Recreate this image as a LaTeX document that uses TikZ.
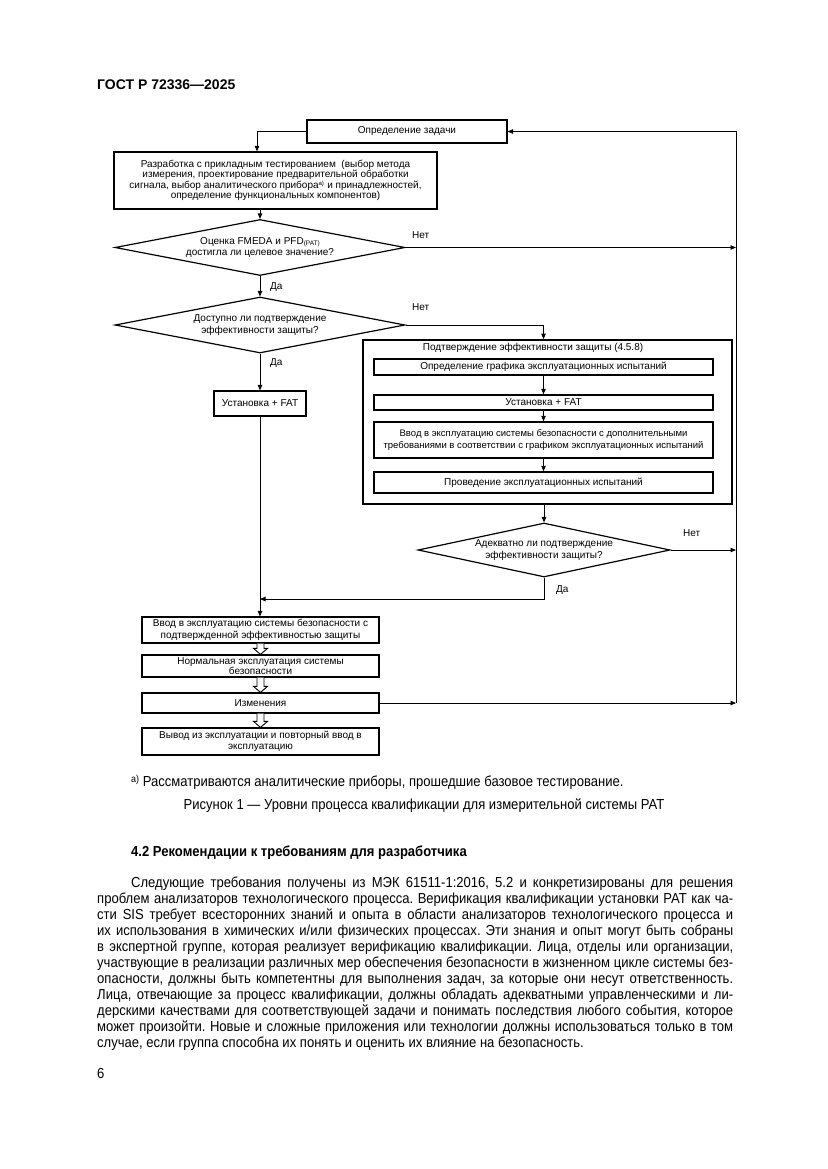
\documentclass[tikz,border=0pt]{standalone}
\usepackage{fontspec}
\setmainfont{Liberation Sans}
\newfontfamily\bodyfont[FakeStretch=0.9]{Liberation Sans}
\usetikzlibrary{arrows.meta,shapes.geometric,calc}
\frenchspacing
\newcommand\dfont{\fontsize{10}{11.5}\selectfont}
\newcommand\bfnt{\bodyfont\fontsize{14.5}{16}\selectfont\frenchspacing}
\newcommand\bline[3]{\node[anchor=base west, inner sep=0pt, font=\bfnt] (#1) at (97,#2) {\makebox[636pt][s]{#3}};}
\tikzset{
  box/.style={draw, line width=1.2pt, inner sep=0pt, align=center, font=\dfont},
  dia/.style={draw, shape=diamond, line width=1.2pt, inner sep=0pt, aspect=1},
  dtxt/.style={align=center, font=\dfont, inner sep=0pt},
  lbl/.style={font=\dfont, inner sep=0pt, anchor=west},
  arr/.style={line width=0.9pt, -{Triangle[length=5.5pt,width=4.5pt]}},
  ln/.style={line width=0.9pt},
  harr/.style={line width=0.9pt, fill=white, line join=miter},
}
\begin{document}
\begin{tikzpicture}[x=1pt,y=-1pt]
\useasboundingbox (0,0) rectangle (827,1169);
\fill[white] (0,0) rectangle (827,1169);

% header
\node[anchor=base west, inner sep=0pt, font=\fontsize{14}{16}\selectfont\bfseries] (hdr) at (97,90) {ГОСТ Р 72336—2025};

% flowchart
\node[box, minimum width=200pt, minimum height=23pt] (box1) at (407,131.5) {Определение задачи};
\node[box, minimum width=323pt, minimum height=57pt, font=\fontsize{10}{10}\selectfont] (box2) at (275.5,180.5)
  {Разработка с прикладным тестированием\ \ (выбор метода\\измерения, проектирование предварительной обработки\\сигнала, выбор аналитического прибора\textsuperscript{\fontsize{6}{6}\selectfont а)} и принадлежностей,\\определение функциональных компонентов)};
\node[dia, minimum width=290pt, minimum height=56pt] (d1) at (260,247.5) {};
\node[dtxt] (d1t) at (d1) {Оценка FMEDA и PFD\raisebox{-1.5pt}{\fontsize{6.5}{7}\selectfont (PAT)}\\достигла ли целевое значение?};
\node[dia, minimum width=290pt, minimum height=56pt] (d2) at (260,325) {};
\node[dtxt] (d2t) at (d2) {Доступно ли подтверждение\\эффективности защиты?};
\node[box, minimum width=92pt, minimum height=25pt] (fat) at (260,403.5) {Установка + FAT};

\node[draw, line width=1.7pt, minimum width=369pt, minimum height=164pt, inner sep=0pt] (outer) at (547.5,422) {};
\node[dtxt] (outt) at (533,347.5) {Подтверждение эффективности защиты (4.5.8)};
\node[box, line width=1.5pt, minimum width=339pt, minimum height=16pt] (i1) at (543.5,367) {Определение графика эксплуатационных испытаний};
\node[box, line width=1.5pt, minimum width=339pt, minimum height=15pt] (i2) at (543.5,402.5) {Установка + FAT};
\node[box, line width=1.5pt, minimum width=339pt, minimum height=36pt, font=\fontsize{9.5}{12}\selectfont] (i3) at (543.5,440) {Ввод в эксплуатацию системы безопасности с дополнительными\\требованиями в соответствии с графиком эксплуатационных испытаний};
\node[box, line width=1.5pt, minimum width=339pt, minimum height=21pt] (i4) at (543.5,482.5) {Проведение эксплуатационных испытаний};

\node[dia, minimum width=252pt, minimum height=54pt] (d3) at (544,550) {};
\node[dtxt, font=\fontsize{10}{12}\selectfont] (d3t) at (d3) {Адекватно ли подтверждение\\эффективности защиты?};

\node[box, minimum width=237pt, minimum height=26pt] (b1) at (260.5,630) {Ввод в эксплуатацию системы безопасности с\\подтвержденной эффективностью защиты};
\node[box, minimum width=237pt, minimum height=22pt, font=\fontsize{10}{9.5}\selectfont] (b2) at (260.5,666) {Нормальная эксплуатация системы\\безопасности};
\node[box, minimum width=237pt, minimum height=20pt] (b3) at (260.5,703) {Изменения};
\node[box, minimum width=237pt, minimum height=27pt] (b4) at (260.5,741.5) {Вывод из эксплуатации и повторный ввод в\\эксплуатацию};

\coordinate (R1) at (736,131.5);
\coordinate (R2) at (736,703);
\coordinate (J) at (260,599);

% connectors
\draw[arr] (box1.west) -| ($(box2.north)+(-18.5,0)$);
\draw[arr] (box2.south -| d1.north) -- (d1.north);
\draw[arr] (d1.east) -- (d1.east -| R1);
\draw[arr] (b3.east) -- (R2);
\draw[arr] (R2) |- (box1.east);
\draw[arr] (d1.south) -- (d2.north);
\draw[arr] (d2.east) -| (i1.north |- outer.north);
\draw[arr] (d2.south) -- (fat.north);
\draw[arr] (fat.south) -- (b1.north -| fat.south);
\draw[arr] (i1.south) -- (i2.north);
\draw[arr] (i2.south) -- (i3.north);
\draw[arr] (i3.south) -- (i4.north);
\draw[arr] (d3.north |- outer.south) -- (d3.north);
\draw[arr] (d3.east) -- (d3.east -| R1);
\draw[arr] (d3.south) |- (J);

% hollow arrows
\foreach \a/\b in {b1/b2, b2/b3, b3/b4}{
  \draw[harr] ($(\a.south)+(-3.5,0)$) -- ($(\b.north)+(-3.5,-6)$) -- ($(\b.north)+(-7,-6)$) -- (\b.north)
     -- ($(\b.north)+(7,-6)$) -- ($(\b.north)+(3.5,-6)$) -- ($(\a.south)+(3.5,0)$);
}

% labels
\node[lbl] (n1) at (412,235) {Нет};
\node[lbl] (y1) at (270,287) {Да};
\node[lbl] (n2) at (412,307) {Нет};
\node[lbl] (y2) at (270,363) {Да};
\node[lbl] (n3) at (683,533) {Нет};
\node[lbl] (y3) at (556,590) {Да};

% footnote and caption
\node[anchor=base west, inner sep=0pt, font=\bfnt] (fn) at (131,786) {\raisebox{4pt}{\fontsize{10}{10}\selectfont а)} Рассматриваются аналитические приборы, прошедшие базовое тестирование.};
\node[anchor=base, inner sep=0pt, font=\bfnt] (cap) at (424,809) {Рисунок 1 — Уровни процесса квалификации для измерительной системы PAT};

% section
\node[anchor=base west, inner sep=0pt, font=\bfnt\bfseries] (sec) at (131,856) {4.2 Рекомендации к требованиям для разработчика};

\node[anchor=base west, inner sep=0pt, font=\bfnt] (l1) at (131,887) {\makebox[602pt][s]{Следующие требования получены из МЭК 61511-1:2016, 5.2 и конкретизированы для решения}};
\bline{l2}{903}{проблем анализаторов технологического процесса. Верификация квалификации установки PAT как ча-}
\bline{l3}{919}{сти SIS требует всесторонних знаний и опыта в области анализаторов технологического процесса и}
\bline{l4}{935}{их использования в химических и/или физических процессах. Эти знания и опыт могут быть собраны}
\bline{l5}{951}{в экспертной группе, которая реализует верификацию квалификации. Лица, отделы или организации,}
\bline{l6}{967}{участвующие в реализации различных мер обеспечения безопасности в жизненном цикле системы без-}
\bline{l7}{983}{опасности, должны быть компетентны для выполнения задач, за которые они несут ответственность.}
\bline{l8}{999}{Лица, отвечающие за процесс квалификации, должны обладать адекватными управленческими и ли-}
\bline{l9}{1015}{дерскими качествами для соответствующей задачи и понимать последствия любого события, которое}
\bline{l10}{1031}{может произойти. Новые и сложные приложения или технологии должны использоваться только в том}
\node[anchor=base west, inner sep=0pt, font=\bfnt] (l11) at (97,1047) {случае, если группа способна их понять и оценить их влияние на безопасность.};

\node[anchor=base west, inner sep=0pt, font=\bfnt] (pg) at (97,1078) {6};
\end{tikzpicture}
\end{document}
